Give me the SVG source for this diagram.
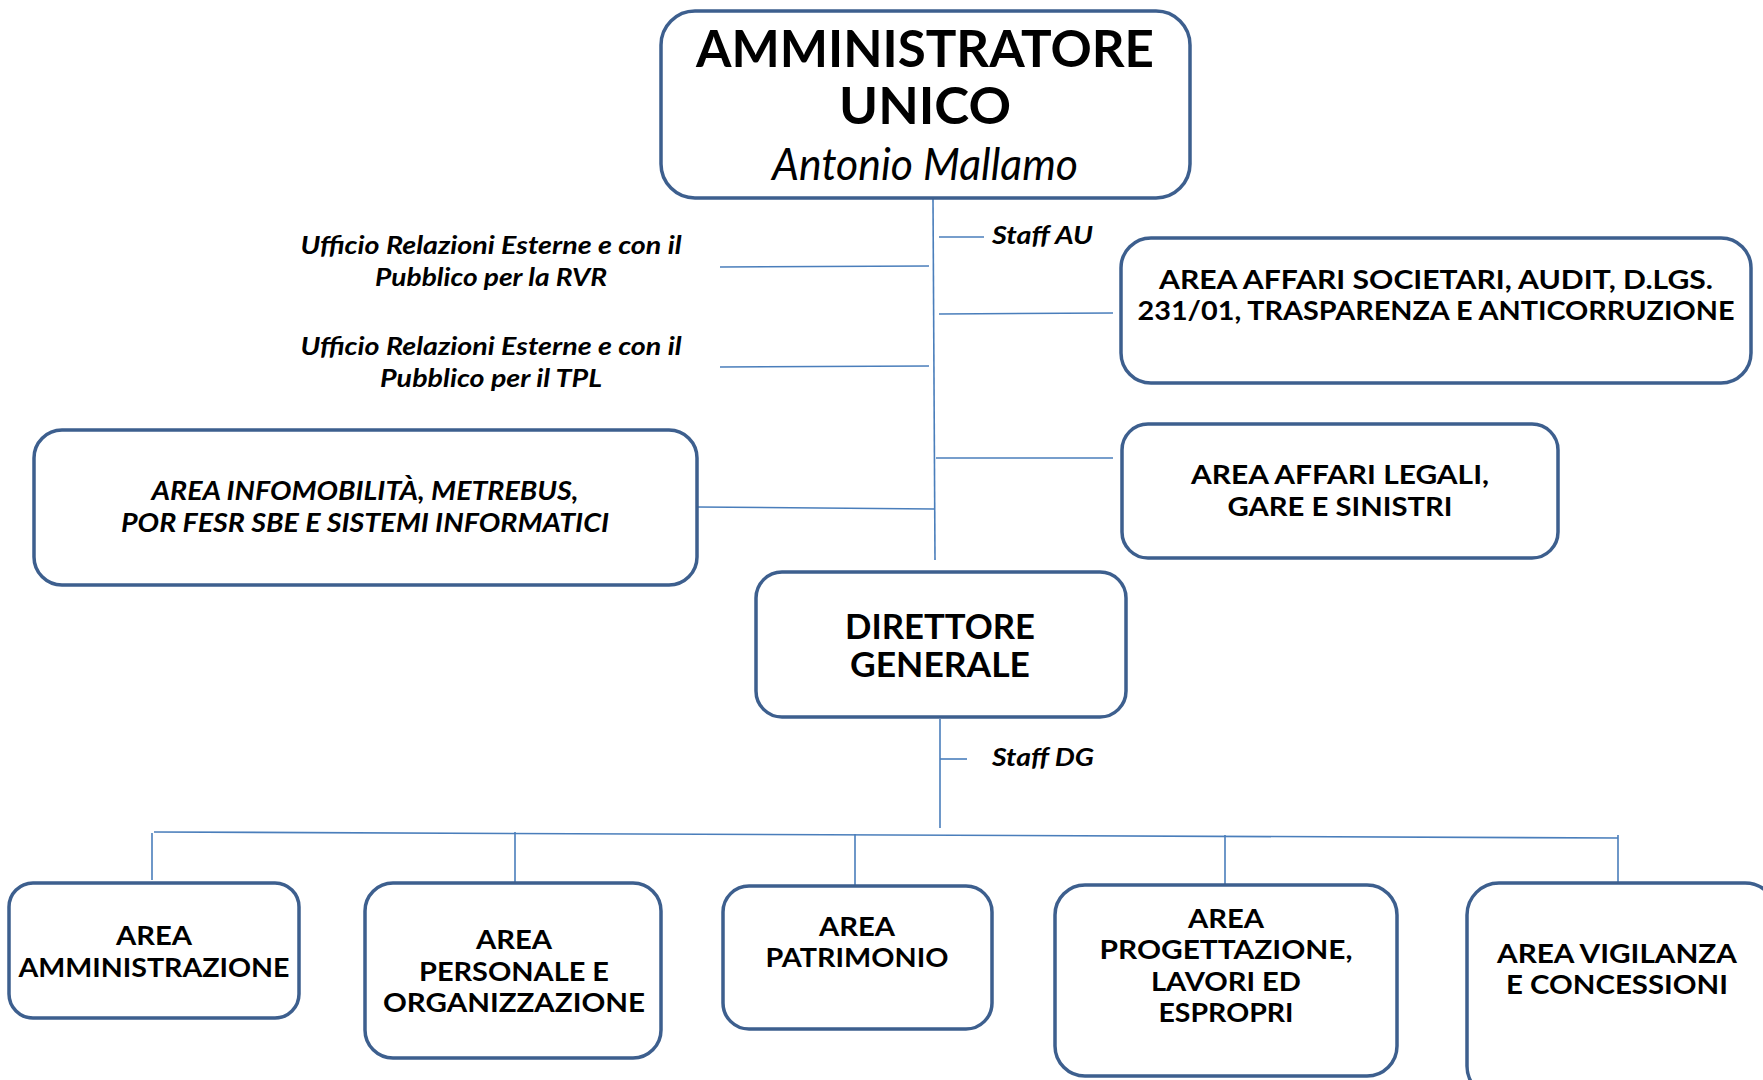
<svg xmlns="http://www.w3.org/2000/svg" width="1763" height="1080" viewBox="0 0 1763 1080">
<style>
.box{fill:#fff;stroke:#3d5f8e;stroke-width:3.5}
.ln{stroke:#4a7ebb;stroke-width:1.6;fill:none}
text{font-family:Lato,"Liberation Sans",sans-serif;fill:#000;text-anchor:middle}
.b{font-weight:bold}
.bi{font-weight:bold;font-style:italic}
.i{font-style:italic}
.t1{font-size:52px}
.t2{font-size:34px}
.t3{font-size:26px}
.t4{font-size:25px}
</style>
<rect width="1763" height="1080" fill="#fff"/>
<g id="connectors">
<line class="ln" x1="933" y1="199" x2="935" y2="560"/>
<line class="ln" x1="939" y1="237" x2="984" y2="237"/>
<line class="ln" x1="939" y1="314" x2="1113" y2="313"/>
<line class="ln" x1="720" y1="267" x2="929" y2="266"/>
<line class="ln" x1="720" y1="367" x2="929" y2="366"/>
<line class="ln" x1="697" y1="507" x2="934" y2="509"/>
<line class="ln" x1="936" y1="458" x2="1113" y2="458"/>
<line class="ln" x1="940" y1="719" x2="940" y2="828"/>
<line class="ln" x1="940" y1="759" x2="967" y2="759"/>
<line class="ln" x1="154" y1="832" x2="1618" y2="838"/>
<line class="ln" x1="152" y1="833" x2="152" y2="880"/>
<line class="ln" x1="515" y1="832" x2="515" y2="883"/>
<line class="ln" x1="855" y1="834" x2="855" y2="885"/>
<line class="ln" x1="1225" y1="835" x2="1225" y2="885"/>
<line class="ln" x1="1618" y1="835" x2="1618" y2="883"/>
</g>
<g id="amministratore">
<rect class="box" x="661" y="11" width="529" height="187" rx="34"/>
<text class="b t1" x="925" y="67" textLength="458" lengthAdjust="spacingAndGlyphs">AMMINISTRATORE</text>
<text class="b t1" x="925" y="124" textLength="172" lengthAdjust="spacingAndGlyphs">UNICO</text>
<text class="i" x="925" y="180" font-size="44" textLength="306" lengthAdjust="spacingAndGlyphs">Antonio Mallamo</text>
</g>
<g id="staff-au">
<text class="bi t4" x="992" y="244" style="text-anchor:start" textLength="101" lengthAdjust="spacingAndGlyphs">Staff AU</text>
</g>
<g id="ufficio-rvr">
<text class="bi t4" x="491" y="254" textLength="381" lengthAdjust="spacingAndGlyphs">Ufficio Relazioni Esterne e con il</text>
<text class="bi t4" x="491" y="286" textLength="232" lengthAdjust="spacingAndGlyphs">Pubblico per la RVR</text>
</g>
<g id="ufficio-tpl">
<text class="bi t4" x="491" y="355" textLength="381" lengthAdjust="spacingAndGlyphs">Ufficio Relazioni Esterne e con il</text>
<text class="bi t4" x="491" y="387" textLength="222" lengthAdjust="spacingAndGlyphs">Pubblico per il TPL</text>
</g>
<g id="area-societari">
<rect class="box" x="1121" y="238" width="630" height="145" rx="30"/>
<text class="b t3" x="1436" y="289" textLength="554" lengthAdjust="spacingAndGlyphs">AREA AFFARI SOCIETARI, AUDIT, D.LGS.</text>
<text class="b t3" x="1436" y="320" textLength="597" lengthAdjust="spacingAndGlyphs">231/01, TRASPARENZA E ANTICORRUZIONE</text>
</g>
<g id="area-infomobilita">
<rect class="box" x="34" y="430" width="663" height="155" rx="28"/>
<text class="bi t3" x="365" y="500" textLength="427" lengthAdjust="spacingAndGlyphs">AREA INFOMOBILITÀ, METREBUS,</text>
<text class="bi t3" x="365" y="532" textLength="488" lengthAdjust="spacingAndGlyphs">POR FESR SBE E SISTEMI INFORMATICI</text>
</g>
<g id="area-legali">
<rect class="box" x="1122" y="424" width="436" height="134" rx="26"/>
<text class="b t3" x="1340" y="484" textLength="298" lengthAdjust="spacingAndGlyphs">AREA AFFARI LEGALI,</text>
<text class="b t3" x="1340" y="516" textLength="225" lengthAdjust="spacingAndGlyphs">GARE E SINISTRI</text>
</g>
<g id="direttore">
<rect class="box" x="756" y="572" width="370" height="145" rx="26"/>
<text class="b t2" x="940" y="639" textLength="190" lengthAdjust="spacingAndGlyphs">DIRETTORE</text>
<text class="b t2" x="940" y="677" textLength="180" lengthAdjust="spacingAndGlyphs">GENERALE</text>
</g>
<g id="staff-dg">
<text class="bi t4" x="992" y="766" style="text-anchor:start" textLength="102" lengthAdjust="spacingAndGlyphs">Staff DG</text>
</g>
<g id="area-amministrazione">
<rect class="box" x="9" y="883" width="290" height="135" rx="24"/>
<text class="b t3" x="154" y="945" textLength="76" lengthAdjust="spacingAndGlyphs">AREA</text>
<text class="b t3" x="154" y="977" textLength="271" lengthAdjust="spacingAndGlyphs">AMMINISTRAZIONE</text>
</g>
<g id="area-personale">
<rect class="box" x="365" y="883" width="296" height="175" rx="28"/>
<text class="b t3" x="514" y="949" textLength="76" lengthAdjust="spacingAndGlyphs">AREA</text>
<text class="b t3" x="514" y="981" textLength="190" lengthAdjust="spacingAndGlyphs">PERSONALE E</text>
<text class="b t3" x="514" y="1012" textLength="262" lengthAdjust="spacingAndGlyphs">ORGANIZZAZIONE</text>
</g>
<g id="area-patrimonio">
<rect class="box" x="723" y="886" width="269" height="143" rx="26"/>
<text class="b t3" x="857" y="936" textLength="76" lengthAdjust="spacingAndGlyphs">AREA</text>
<text class="b t3" x="857" y="967" textLength="183" lengthAdjust="spacingAndGlyphs">PATRIMONIO</text>
</g>
<g id="area-progettazione">
<rect class="box" x="1055" y="885" width="342" height="191" rx="30"/>
<text class="b t3" x="1226" y="928" textLength="76" lengthAdjust="spacingAndGlyphs">AREA</text>
<text class="b t3" x="1226" y="959" textLength="253" lengthAdjust="spacingAndGlyphs">PROGETTAZIONE,</text>
<text class="b t3" x="1226" y="991" textLength="150" lengthAdjust="spacingAndGlyphs">LAVORI ED</text>
<text class="b t3" x="1226" y="1022" textLength="135" lengthAdjust="spacingAndGlyphs">ESPROPRI</text>
</g>
<g id="area-vigilanza">
<rect class="box" x="1467" y="883" width="310" height="215" rx="32"/>
<text class="b t3" x="1617" y="963" textLength="240" lengthAdjust="spacingAndGlyphs">AREA VIGILANZA</text>
<text class="b t3" x="1617" y="994" textLength="222" lengthAdjust="spacingAndGlyphs">E CONCESSIONI</text>
</g>
</svg>
